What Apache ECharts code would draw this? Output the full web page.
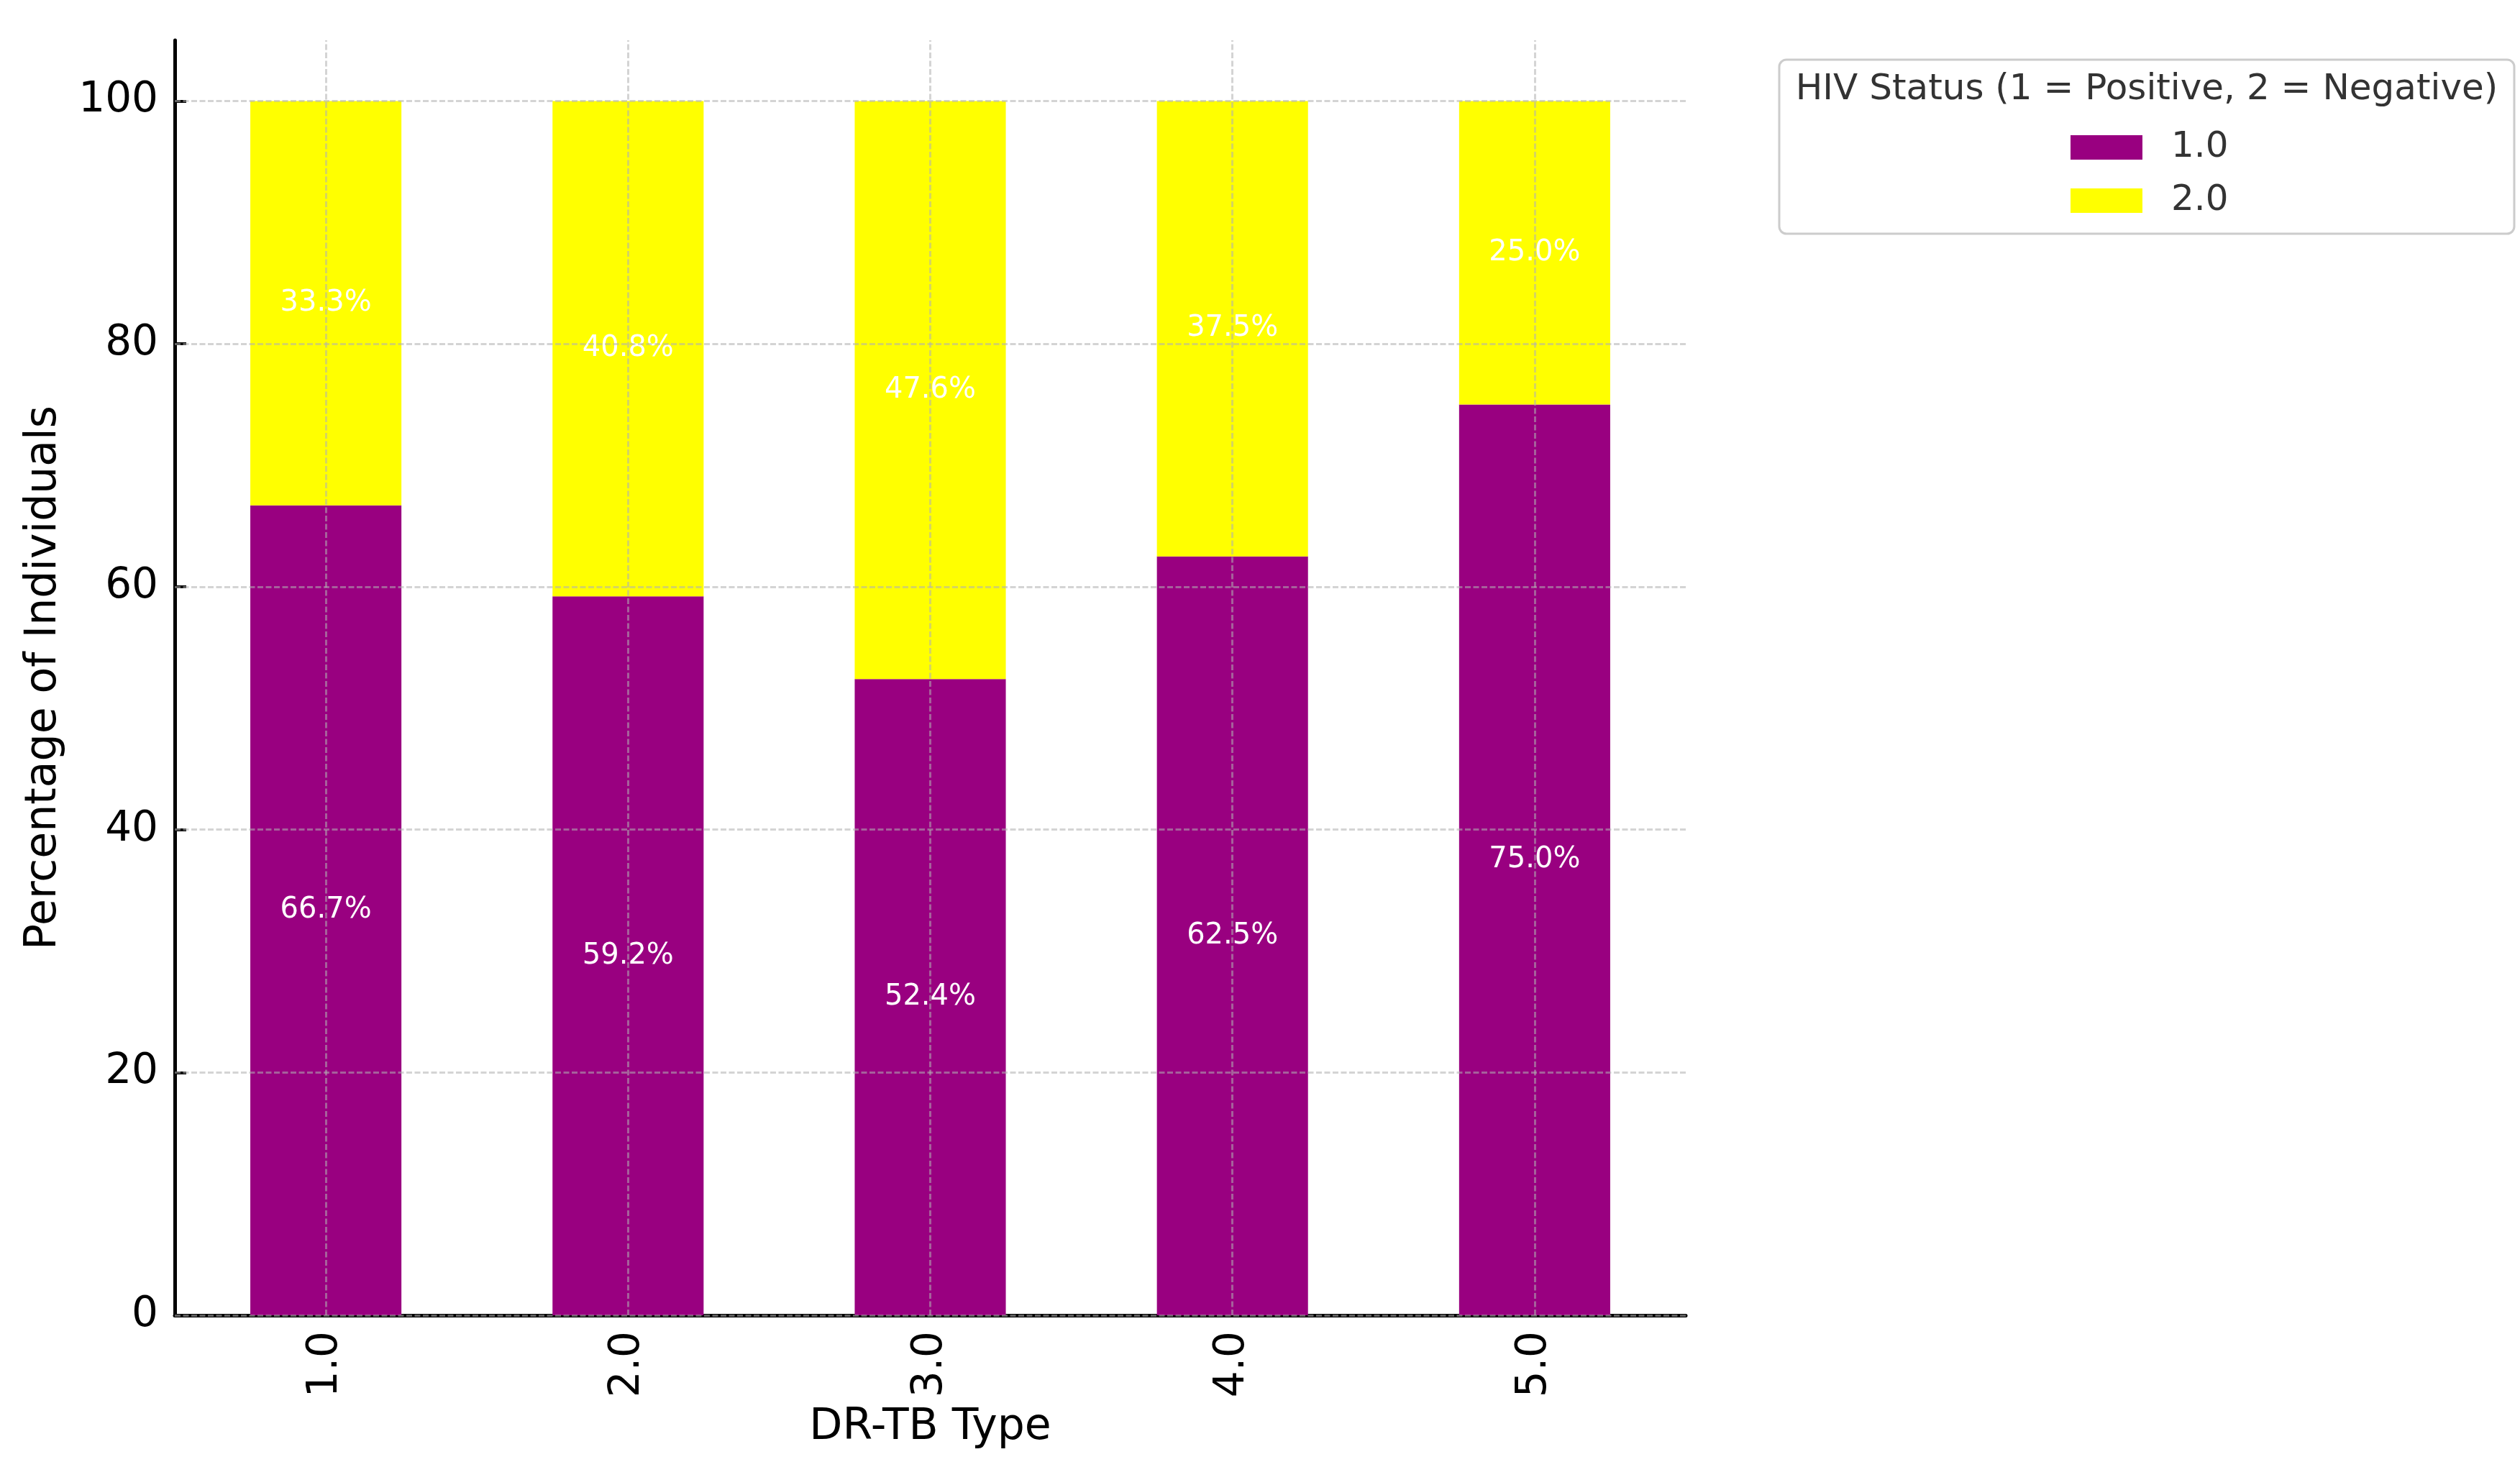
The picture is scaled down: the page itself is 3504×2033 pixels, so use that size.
<!DOCTYPE html>
<html><head><meta charset="utf-8">
<script src="https://cdn.jsdelivr.net/npm/echarts@6/dist/echarts.min.js"></script>
<style>html,body{margin:0;padding:0;background:#fff}#c{width:3504px;height:2033px}</style>
</head><body><div id="c"></div>
<script>
const categories = ['1.0', '2.0', '3.0', '4.0', '5.0'];
const positive = [66.7, 59.2, 52.4, 62.5, 75.0];
const negative = [33.3, 40.8, 47.6, 37.5, 25.0];
const yTicks = [0, 20, 40, 60, 80, 100];
const seriesNames = ['1.0', '2.0'];
const legendTitle = 'HIV Status (1 = Positive, 2 = Negative)';

const FONT = 'DejaVu Sans';
const gridStyle = { color: 'rgba(176,176,176,0.55)', type: [8, 3.5], width: 3 };

const chart = echarts.init(document.getElementById('c'), null, { renderer: 'canvas' });
chart.setOption({
  animation: false,
  backgroundColor: '#ffffff',
  textStyle: { fontFamily: FONT },
  grid: { left: 243, right: 1160, top: 56, bottom: 204, containLabel: false },
  xAxis: {
    type: 'category',
    data: categories,
    name: 'DR-TB Type',
    nameLocation: 'middle',
    nameGap: 126,
    nameTextStyle: { fontSize: 60, color: '#000', fontFamily: FONT },
    axisLine: { lineStyle: { color: '#000', width: 5 } },
    axisTick: { inside: true, length: 16, alignWithLabel: true, lineStyle: { color: '#000', width: 4 } },
    axisLabel: { rotate: 90, fontSize: 58, color: '#000', margin: 22, fontFamily: FONT },
    splitLine: { show: false }
  },
  yAxis: {
    type: 'value',
    min: 0,
    max: 105,
    interval: 20,
    name: 'Percentage of Individuals',
    nameLocation: 'middle',
    nameRotate: 90,
    nameGap: 152,
    nameTextStyle: { fontSize: 60, color: '#000', fontFamily: FONT },
    axisLine: { show: true, lineStyle: { color: '#000', width: 5 } },
    axisTick: { show: true, inside: true, length: 16, customValues: yTicks, lineStyle: { color: '#000', width: 4 } },
    axisLabel: { fontSize: 58, color: '#000', margin: 23, customValues: yTicks, fontFamily: FONT },
    splitLine: { show: false }
  },
  legend: {
    orient: 'vertical',
    left: 2874,
    top: 175,
    itemWidth: 100,
    itemHeight: 34,
    itemGap: 24,
    icon: 'rect',
    data: seriesNames,
    textStyle: { fontSize: 50, lineHeight: 50, color: '#333', fontFamily: FONT, padding: [0, 0, 0, 35] }
  },
  graphic: [
    {
      type: 'rect', z: 1, silent: true,
      shape: { x: 2474, y: 83, width: 1022, height: 242, r: 10 },
      style: { fill: 'rgba(255,255,255,0.8)', stroke: '#cccccc', lineWidth: 3 }
    },
    {
      type: 'text', z: 2, silent: true,
      x: 2985, y: 125,
      style: { text: legendTitle, fontSize: 50, fontFamily: FONT, fill: '#333', align: 'center', verticalAlign: 'middle' }
    }
  ],
  series: [
    {
      name: seriesNames[0],
      type: 'bar',
      stack: 'total',
      barWidth: '50%',
      data: positive,
      itemStyle: { color: '#990080' },
      label: { show: true, position: 'inside', color: '#ffffff', fontSize: 40, fontFamily: FONT,
        formatter: p => p.value.toFixed(1) + '%' }
    },
    {
      name: seriesNames[1],
      type: 'bar',
      stack: 'total',
      barWidth: '50%',
      data: negative,
      itemStyle: { color: '#ffff00' },
      label: { show: true, position: 'inside', color: '#ffffff', fontSize: 40, fontFamily: FONT,
        formatter: p => p.value.toFixed(1) + '%' },
      markLine: {
        silent: true,
        symbol: 'none',
        label: { show: false },
        lineStyle: gridStyle,
        emphasis: { disabled: true },
        data: yTicks.map(v => ({ yAxis: v })).concat(categories.map(c => ({ xAxis: c })))
      }
    }
  ]
});
</script>
</body></html>
